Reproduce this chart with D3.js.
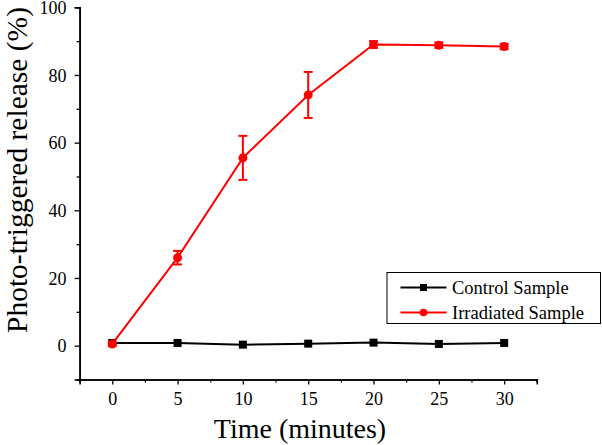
<!DOCTYPE html>
<html>
<head>
<meta charset="utf-8">
<script src="https://cdn.jsdelivr.net/npm/d3@7"></script>
<style>
  body { margin: 0; background: #fff; }
  text { font-family: "Liberation Serif", "Times New Roman", serif; fill: #000; }
</style>
</head>
<body>
<div id="chart"></div>
<script>
// DATA
const times = [0, 5, 10, 15, 20, 25, 30]
const control = [0.8, 0.8, 0.3, 0.6, 0.9, 0.5, 0.8]
const irradiated = [0.5, 26, 55.5, 74.1, 89, 88.8, 88.4]
const irradiatedErr = [0.4, 2, 6.5, 6.8, 1, 0.8, 0.8]
const xTicks = [0, 5, 10, 15, 20, 25, 30]
const yTicks = [0, 20, 40, 60, 80, 100]

const width = 602, height = 445

const svg = d3.select("#chart")
  .append("svg")
  .attr("width", width)
  .attr("height", height)

xScale = d3.scaleLinear()
  .domain([-2.5, 32.5])
  .range([79.6, 536.8])

yScale = d3.scaleLinear()
  .domain([-10, 100])
  .range([379.5, 7.3])

// + DRAW AXES
const xAxis = d3.axisBottom(xScale).tickValues(xTicks).tickSize(5).tickPadding(8)
const yAxis = d3.axisLeft(yScale).tickValues(yTicks).tickSize(5).tickPadding(8)

// minor ticks
svg.append("g")
  .attr("transform", `translate(0, ${yScale(-10)})`)
  .call(d3.axisBottom(xScale).tickValues(d3.range(-2.5, 33, 5)).tickSize(3).tickFormat(""))
svg.append("g")
  .attr("transform", `translate(${xScale(-2.5)}, 0)`)
  .call(d3.axisLeft(yScale).tickValues([-10, 10, 30, 50, 70, 90]).tickSize(3).tickFormat(""))

const gx = svg.append("g")
  .attr("class", "xAxis")
  .attr("transform", `translate(0, ${yScale(-10)})`) // bottom of plot
  .call(xAxis)
gx.selectAll("text").attr("font-size", 18)

const gy = svg.append("g")
  .attr("class", "yAxis")
  .attr("transform", `translate(${xScale(-2.5)}, 0)`)
  .call(yAxis)
gy.selectAll("text").attr("font-size", 18).attr("dy", "0.34em")

svg.selectAll(".domain").attr("stroke", "#000").attr("stroke-width", 1.5)
svg.selectAll(".tick line").attr("stroke", "#000").attr("stroke-width", 1.3)
svg.selectAll(".tick text").style("font-family", "Liberation Serif").attr("fill", "#000")

// axis labels
svg.append("text")
  .attr("x", 300)
  .attr("y", 438)
  .attr("text-anchor", "middle")
  .attr("font-size", 28)
  .text("Time (minutes)")

svg.append("text")
  .attr("transform", `translate(27, 170) rotate(-90)`)
  .attr("text-anchor", "middle")
  .attr("font-size", 29.5)
  .text("Photo-triggered release (%)")

// DRAW LINES
const line = d3.line()
  .x((d, i) => xScale(times[i]))
  .y(d => yScale(d))

svg.append("path")
  .datum(control)
  .attr("d", line)
  .attr("fill", "none")
  .attr("stroke", "#000")
  .attr("stroke-width", 2)

svg.selectAll(".sq")
  .data(control)
  .join("rect")
    .attr("class", "sq")
    .attr("x", (d, i) => xScale(times[i]) - 4)
    .attr("y", d => yScale(d) - 4)
    .attr("width", 8)
    .attr("height", 8)
    .attr("fill", "#000")

const red = "#ff0000"

svg.append("path")
  .datum(irradiated)
  .attr("d", line)
  .attr("fill", "none")
  .attr("stroke", red)
  .attr("stroke-width", 2)

// error bars
const eb = svg.selectAll(".eb")
  .data(irradiated)
  .join("g")
    .attr("class", "eb")
eb.append("line")
  .attr("x1", (d, i) => xScale(times[i]))
  .attr("x2", (d, i) => xScale(times[i]))
  .attr("y1", (d, i) => yScale(d + irradiatedErr[i]))
  .attr("y2", (d, i) => yScale(d - irradiatedErr[i]))
  .attr("stroke", red).attr("stroke-width", 2)
eb.append("line")
  .attr("x1", (d, i) => xScale(times[i]) - 4.5)
  .attr("x2", (d, i) => xScale(times[i]) + 4.5)
  .attr("y1", (d, i) => yScale(d + irradiatedErr[i]))
  .attr("y2", (d, i) => yScale(d + irradiatedErr[i]))
  .attr("stroke", red).attr("stroke-width", 2)
eb.append("line")
  .attr("x1", (d, i) => xScale(times[i]) - 4.5)
  .attr("x2", (d, i) => xScale(times[i]) + 4.5)
  .attr("y1", (d, i) => yScale(d - irradiatedErr[i]))
  .attr("y2", (d, i) => yScale(d - irradiatedErr[i]))
  .attr("stroke", red).attr("stroke-width", 2)

svg.selectAll(".dot")
  .data(irradiated)
  .join("circle")
    .attr("class", "dot")
    .attr("cx", (d, i) => xScale(times[i]))
    .attr("cy", d => yScale(d))
    .attr("r", 4.5)
    .attr("fill", red)

// LEGEND
const legend = svg.append("g").attr("transform", "translate(387, 272.5)")
legend.append("rect")
  .attr("width", 213.5)
  .attr("height", 51)
  .attr("fill", "#fff")
  .attr("stroke", "#000")
  .attr("stroke-width", 1)

const legendItems = [
  { name: "Control Sample", color: "#000", shape: "square" },
  { name: "Irradiated Sample", color: red, shape: "circle" }
]
legendItems.forEach((item, i) => {
  const y = 15 + i * 25
  legend.append("line")
    .attr("x1", 13.5).attr("x2", 59.5)
    .attr("y1", y).attr("y2", y)
    .attr("stroke", item.color).attr("stroke-width", 2)
  if (item.shape == "square") {
    legend.append("rect")
      .attr("x", 36.5 - 3.5).attr("y", y - 3.5)
      .attr("width", 7).attr("height", 7)
      .attr("fill", item.color)
  } else {
    legend.append("circle")
      .attr("cx", 36.5).attr("cy", y).attr("r", 3.8)
      .attr("fill", item.color)
  }
  legend.append("text")
    .attr("x", 65)
    .attr("y", y + 6)
    .attr("font-size", 18.5)
    .text(item.name)
})
</script>
</body>
</html>
